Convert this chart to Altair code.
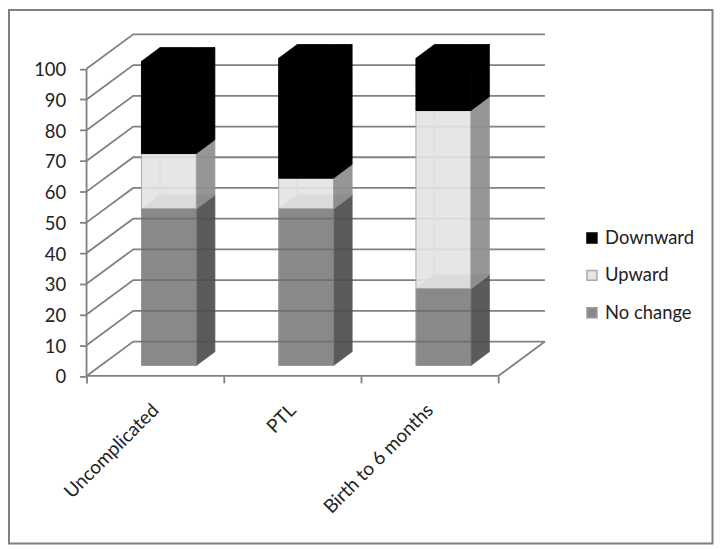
import altair as alt
import pandas as pd

categories = ["Uncomplicated", "PTL", "Birth to 6 months"]
series = ["Downward", "Upward", "No change"]
no_change = [51, 51, 25]
upward = [18, 10, 58]
downward = [30, 39, 17]
y_ticks = list(range(0, 101, 10))

GRID = "#808080"
WALL_DX, WALL_DY = 0.34, 11.2
BAR_LEFT, BAR_W = 0.4, 0.4
BAR_DX, BAR_DY = 0.135, 4.5
BASE = 3.4
XMAX, YMAX = 3 + WALL_DX, 100 + WALL_DY
PLOT_W, PLOT_H = 461, 343.5
FONT_SIZE = 18.5

lines, inner, faces, fronts = [], [], [], []


def add_line(store, name, pts):
    for i, (x, y) in enumerate(pts):
        store.append({"id": name, "seq": i, "x": x, "y": y})


for v in y_ticks:
    add_line(lines, f"w{v}", [(0, v), (WALL_DX, v + WALL_DY), (XMAX, v + WALL_DY)])
add_line(lines, "left", [(0, 0), (0, 100)])
add_line(lines, "front", [(0, 0), (3, 0)])
add_line(lines, "floor", [(3, 0), (XMAX, WALL_DY)])


def side(name, x, lo, hi, fill, op):
    faces.append({"id": name, "x": x, "y": lo, "y2": hi, "fill": fill, "op": op})
    faces.append({"id": name, "x": x + BAR_DX, "y": lo + BAR_DY, "y2": hi + BAR_DY, "fill": fill, "op": op})


def top(name, x1, x2, v, fill, op):
    for x, a, b in [(x1, v, v), (x1 + BAR_DX, v, v + BAR_DY), (x2, v, v + BAR_DY), (x2 + BAR_DX, v + BAR_DY, v + BAR_DY)]:
        faces.append({"id": name, "x": x, "y": a, "y2": b, "fill": fill, "op": op})


for i in range(3):
    x1 = i + BAR_LEFT
    x2 = x1 + BAR_W
    a = BASE
    b = a + no_change[i]
    c = b + upward[i]
    d = c + downward[i]
    side(f"s0{i}", x2, a, b, "#4f4f4f", 0.93)
    top(f"t0{i}", x1, x2, b, "#8c8c8c", 1)
    side(f"s1{i}", x2, b, c, "#8f8f8f", 0.93)
    side(f"s2{i}", x2, c, d, "#000000", 1)
    top(f"t2{i}", x1, x2, d, "#000000", 1)
    add_line(inner, f"i{i}", [(x1 + BAR_DX, c + BAR_DY), (x1 + BAR_DX, b + BAR_DY), (x2 + BAR_DX, b + BAR_DY)])
    for name, lo, hi in [("No change", a, b), ("Upward", b, c), ("Downward", c, d)]:
        fronts.append({"series": name, "x": x1, "x2": x2, "y": lo, "y2": hi})

x_scale = alt.Scale(domain=[0, XMAX], nice=False, zero=False)
y_scale = alt.Scale(domain=[0, YMAX], nice=False, zero=False)

label_expr = "+".join(
    f"(datum.value=={i}+0.5?'{c}':'')" for i, c in enumerate(categories)
)
x_axis = alt.Axis(
    values=[0, 0.5, 1, 1.5, 2, 2.5, 3],
    title=None,
    domain=False,
    grid=False,
    labelExpr=label_expr,
    labelAngle=-45,
    labelAlign="right",
    labelBaseline="middle",
    labelFontSize=19,
    labelFont="Lato",
    labelColor="#222222",
    labelPadding=24,
    labelOverlap=False,
    labelFlush=False,
    labelBound=False,
    tickColor=GRID,
    tickWidth=1.8,
    tickSize=7,
    tickOpacity={"condition": {"test": "datum.value % 1 == 0", "value": 1}, "value": 0},
)
y_axis = alt.Axis(
    values=y_ticks,
    title=None,
    domain=False,
    grid=False,
    labelFontSize=FONT_SIZE,
    labelFont="Lato",
    labelColor="#222222",
    labelPadding=14,
    labelOffset=1,
    tickColor=GRID,
    tickWidth=1.8,
    tickSize=7,
)

X = alt.X("x:Q", scale=x_scale, axis=x_axis)
Y = alt.Y("y:Q", scale=y_scale, axis=y_axis)

# chart border, expressed in the plot's own units so it shares the axes
ux = XMAX / PLOT_W
uy = YMAX / PLOT_H
border = pd.DataFrame(
    [{"x": -78 * ux, "x2": 629.5 * ux, "y": (PLOT_H - 512) * uy, "y2": (PLOT_H + 24.5) * uy}]
)
frame = alt.Chart(border).mark_rect(
    fill="transparent", stroke="#7f7f7f", strokeWidth=2, clip=False
).encode(x=X, x2="x2:Q", y=Y, y2="y2:Q")

grid_layer = alt.Chart(pd.DataFrame(lines)).mark_line(color=GRID, strokeWidth=1.8).encode(
    x=X, y=Y, detail="id:N", order="seq:Q"
)

inner_layer = alt.Chart(pd.DataFrame(inner)).mark_line(color="#b5b5b5", strokeWidth=1.5).encode(
    x=X, y=Y, detail="id:N", order="seq:Q"
)

face_layer = alt.Chart(pd.DataFrame(faces)).mark_area(interpolate="linear", strokeWidth=0.8).encode(
    x=X,
    y=alt.Y("y:Q", scale=y_scale, axis=y_axis, stack=None),
    y2="y2:Q",
    detail="id:N",
    fill=alt.Fill("fill:N", scale=None),
    stroke=alt.Stroke("fill:N", scale=None),
    opacity=alt.Opacity("op:Q", scale=None),
)

front_layer = alt.Chart(pd.DataFrame(fronts)).mark_rect(strokeWidth=1).encode(
    x=X,
    x2="x2:Q",
    y=Y,
    y2="y2:Q",
    fill=alt.Fill(
        "series:N",
        scale=alt.Scale(domain=series, range=["#000000", "#e4e4e4", "#6c6c6c"]),
        legend=alt.Legend(
            title=None,
            orient="none",
            legendX=499,
            legendY=195.5,
            symbolType="square",
            symbolSize=100,
            labelFontSize=FONT_SIZE,
            labelFont="Lato",
            labelColor="#222222",
            rowPadding=18.6,
            labelOffset=4,
        ),
    ),
    stroke=alt.Stroke(
        "series:N",
        scale=alt.Scale(domain=series, range=["#000000", "#a0a0a0", "#808080"]),
    ),
    opacity=alt.Opacity(
        "series:N",
        scale=alt.Scale(domain=series, range=[1, 0.8, 0.93]),
    ),
)

chart = alt.layer(frame, grid_layer, inner_layer, face_layer, front_layer).properties(
    width=PLOT_W,
    height=PLOT_H,
    padding={"left": 79, "top": 25, "right": 170, "bottom": 169},
    autosize=alt.AutoSizeParams(type="none"),
).configure_view(stroke=None)

chart.save("out.html", embed_options={"renderer": "svg", "actions": False})
